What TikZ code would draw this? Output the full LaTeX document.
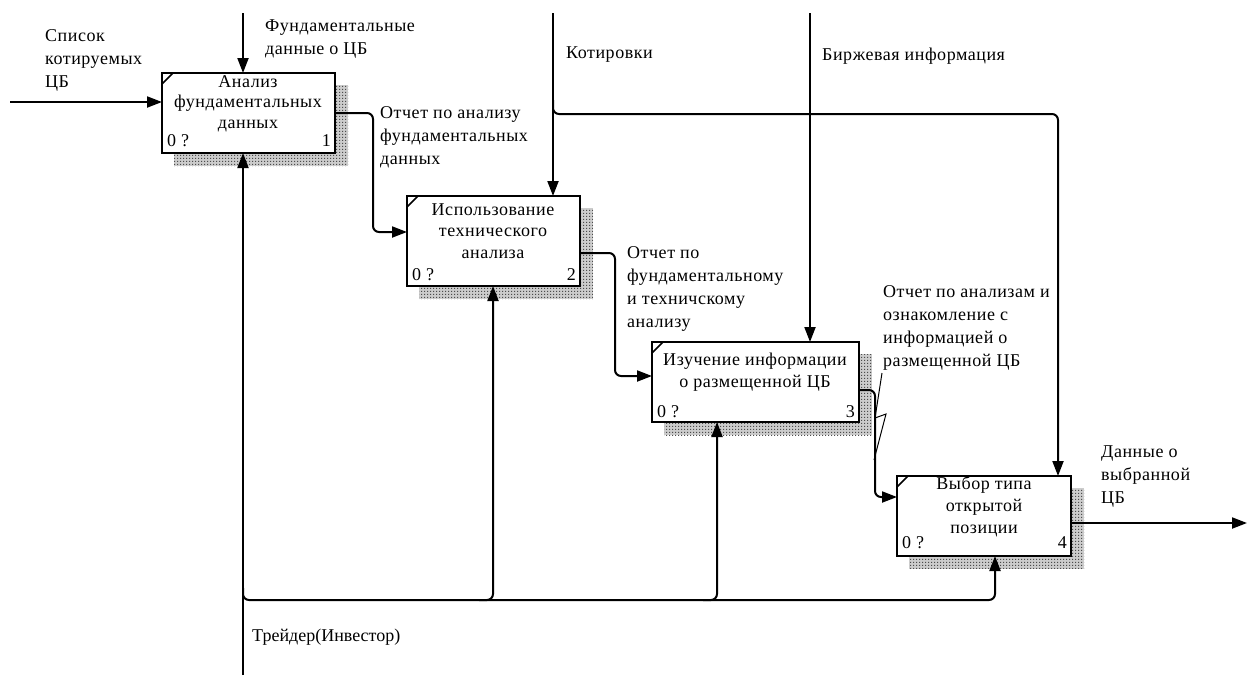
\documentclass[tikz,border=0pt]{standalone}
\usepackage{fontspec}
\setmainfont{Liberation Serif}
\usetikzlibrary{arrows.meta,patterns,backgrounds}

% fine dotted texture for the box shadows
\pgfdeclarepatternformonly{idefdots}{\pgfqpoint{0pt}{0pt}}{\pgfqpoint{2.6pt}{2.6pt}}{\pgfqpoint{2.6pt}{2.6pt}}%
  {\pgfpathrectangle{\pgfqpoint{0pt}{0pt}}{\pgfqpoint{1.4pt}{1.4pt}}\pgfusepath{fill}}

% spaced serif text used for all labels
\newfontfamily\idefspaced[LetterSpace=3]{Liberation Serif}

\begin{document}
\begin{tikzpicture}[x=1pt,y=-1pt,
  font=\idefspaced\fontsize{18}{21.5}\selectfont,
  act/.style={draw, line width=2.4pt, fill=white, minimum height=80pt,
    anchor=north west, inner sep=0pt, outer sep=0pt},
  tick/.style={line width=1.6pt},
  shadeA/.style={fill=gray!40},
  shadeB/.style={pattern=idefdots, pattern color=gray!60!black},
  flow/.style={line width=2pt, rounded corners=6pt,
    -{Triangle[length=15pt,width=11pt]}},
  wire/.style={line width=2pt, rounded corners=6pt},
  squig/.style={line width=1pt},
  lbl/.style={anchor=base west, align=left, inner sep=0pt,
    font=\idefspaced\fontsize{18}{23}\selectfont},
  btxt/.style={anchor=base, align=center, inner sep=0pt},
  num/.style={anchor=base, inner sep=0pt}
]
\useasboundingbox (0,0) rectangle (1247,675);

% activity boxes
\node[act, minimum width=173pt] (b1) at (162,73) {};
\node[act, minimum width=173pt, minimum height=90pt] (b2) at (407,196) {};
\node[act, minimum width=207pt] (b3) at (652,342) {};
\node[act, minimum width=174pt] (b4) at (897,476) {};

% shadows behind the boxes
\begin{pgfonlayer}{background}
\foreach \b in {b1,b2,b3,b4}{
  \fill[shadeA] ([shift={(12pt,-12pt)}]\b.north west) rectangle ([shift={(13pt,-13pt)}]\b.south east);
  \fill[shadeB] ([shift={(12pt,-12pt)}]\b.north west) rectangle ([shift={(13pt,-13pt)}]\b.south east);
}
\end{pgfonlayer}

% corner ticks
\foreach \b in {b1,b2,b3,b4}{
  \draw[tick] ([yshift=-11pt]\b.north west) -- ([xshift=11pt]\b.north west);
}

% box titles (anchored at the baseline of the last line) and numbers
\node[btxt, font=\idefspaced\fontsize{18}{20.5}\selectfont] (t1) at (248,128) {Анализ\\фундаментальных\\данных};
\node[num, anchor=base west] (n1a) at (167,146) {0 ?};
\node[num, anchor=base east] (n1b) at (331,146) {1};

\node[btxt] (t2) at (493,258) {Использование\\технического\\анализа};
\node[num, anchor=base west] (n2a) at (412,280) {0 ?};
\node[num, anchor=base east] (n2b) at (576,280) {2};

\node[btxt] (t3) at (755,387) {Изучение информации\\о размещенной ЦБ};
\node[num, anchor=base west] (n3a) at (657,417) {0 ?};
\node[num, anchor=base east] (n3b) at (855,417) {3};

\node[btxt, font=\idefspaced\fontsize{18}{22}\selectfont] (t4) at (984,533) {Выбор типа\\открытой\\позиции};
\node[num, anchor=base west] (n4a) at (902,548) {0 ?};
\node[num, anchor=base east] (n4b) at (1067,548) {4};

% arrow labels (anchored at the baseline of the last line)
\node[lbl] (l1) at (45,87) {Список\\котируемых\\ЦБ};
\node[lbl] (l2) at (265,54) {Фундаментальные\\данные о ЦБ};
\node[lbl] (l3) at (566,58) {Котировки};
\node[lbl] (l4) at (822,60) {Биржевая информация};
\node[lbl] (l5) at (380,164) {Отчет по анализу\\фундаментальных\\данных};
\node[lbl] (l6) at (627,327) {Отчет по\\фундаментальному\\и техничскому\\анализу};
\node[lbl] (l7) at (883,366) {Отчет по анализам и\\ознакомление с\\информацией о\\размещенной ЦБ};
\node[lbl] (l8) at (1101,503) {Данные о\\выбранной\\ЦБ};
\node[lbl, font=\fontsize{18}{23}\selectfont] (l9) at (252,641) {Трейдер(Инвестор)};

% input
\coordinate (i1) at (10,102);
\draw[flow] (i1) -- (i1 -| b1.west);

% controls
\coordinate (c1) at (243,13);
\draw[flow] (c1) -- (c1 |- b1.north);
\coordinate (c2) at (553,13);
\draw[flow] (c2) -- (c2 |- b2.north);
\coordinate (c3) at (810,13);
\draw[flow] (c3) -- (c3 |- b3.north);
\coordinate (k2) at (553,100);
\coordinate (c4) at (1058,114);
\draw[flow] (k2) -- (k2 |- c4) -- (c4) -- (c4 |- b4.north);

% outputs passed on between activities
\coordinate (o1) at (373,232);
\draw[flow] (b1.east) -- (b1.east -| o1) -- (o1) -- (o1 -| b2.west);
\coordinate (o2) at (615,376);
\draw[flow] ([yshift=-12pt]b2.east) -- ([yshift=-12pt]b2.east -| o2) -- (o2) -- (o2 -| b3.west);
\coordinate (o3) at (875,497);
\draw[flow] ([yshift=-8pt]b3.east) -- ([yshift=-8pt]b3.east -| o3) -- (o3) -- (o3 -| b4.west);
\coordinate (out) at (1247,523);
\draw[flow] (out -| b4.east) -- (out);

% mechanism
\coordinate (m1) at (243,675);
\draw[flow] (m1) -- (m1 |- b1.south);
\coordinate (bus) at (243,600);
\coordinate (m4) at (995,600);
\draw[flow] ([yshift=12pt]bus) -- (bus) -- (m4) -- (m4 |- b4.south);
\coordinate (m2) at (493,600);
\draw[flow] ([xshift=-14pt]m2) -- (m2) -- (m2 |- b2.south);
\coordinate (m3) at (717,600);
\draw[flow] ([xshift=-14pt]m3) -- (m3) -- (m3 |- b3.south);

% leader from the label to its arrow
\coordinate (s1) at (882,373);
\coordinate (s2) at (875,418);
\coordinate (s3) at (886,414);
\coordinate (s4) at (874,460);
\draw[squig] (s1) -- (s2) -- (s3) -- (s4);
\end{tikzpicture}
\end{document}
